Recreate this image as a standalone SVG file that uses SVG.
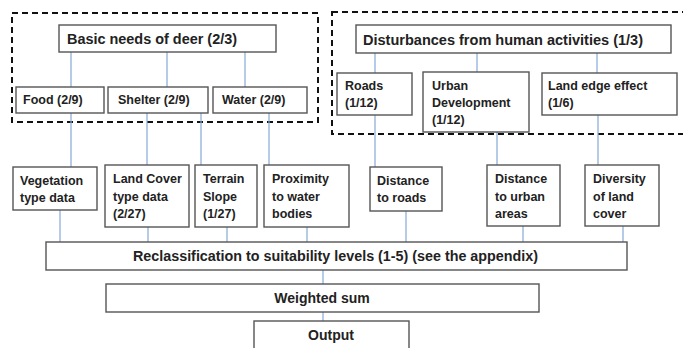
<svg xmlns="http://www.w3.org/2000/svg" width="683" height="348" viewBox="0 0 683 348">
<style>
.box{fill:#fff;stroke:#555;stroke-width:1.4}
.grp{fill:none;stroke:#111;stroke-width:2;stroke-dasharray:6 4}
.ln{stroke:#86a9d6;stroke-width:1.2;fill:none}
text{font-family:"Liberation Sans",Arial,sans-serif;font-weight:bold;fill:#222}
.h{font-size:14px}
.s{font-size:12.5px}
.m{text-anchor:middle}
</style>
<rect width="683" height="348" fill="#fff"/>
<g id="groups">
<rect class="grp" x="12" y="13" width="306" height="109"/>
<rect class="grp" x="332" y="12" width="360" height="122"/>
</g>
<g id="connectors">
<path class="ln" d="M71 52V87M167 52V87M245 52V87M71 113V167M147 113V165M201 113V165M269 113V165M375 53V73M477 53V72M597 53V73M375 115V167M497 132V165M598 115V165M60 210V242M148 227V242M227 227V242M307 227V242M406 211V242M523 226V242M623 226V242M323 270V284M323 312V321"/>
</g>
<g id="basic"><rect class="box" x="59" y="25" width="217" height="27"/><text class="h" x="67" y="44" textLength="170" lengthAdjust="spacingAndGlyphs">Basic needs of deer (2/3)</text></g>
<g id="disturb"><rect class="box" x="356" y="25" width="315" height="28"/><text class="h" x="363" y="45" textLength="280" lengthAdjust="spacingAndGlyphs">Disturbances from human activities (1/3)</text></g>
<g id="food"><rect class="box" x="16" y="87" width="88" height="26"/><text class="s" x="23" y="104">Food (2/9)</text></g>
<g id="shelter"><rect class="box" x="108" y="87" width="100" height="26"/><text class="s" x="118" y="104">Shelter (2/9)</text></g>
<g id="water"><rect class="box" x="213" y="87" width="94" height="26"/><text class="s" x="222" y="104">Water (2/9)</text></g>
<g id="roads"><rect class="box" x="337" y="73" width="75" height="42"/><text class="s" x="345" y="90">Roads</text><text class="s" x="345" y="107">(1/12)</text></g>
<g id="urban"><rect class="box" x="423" y="72" width="106" height="60"/><text class="s" x="432" y="90">Urban</text><text class="s" x="432" y="107">Development</text><text class="s" x="432" y="124">(1/12)</text></g>
<g id="landedge"><rect class="box" x="542" y="73" width="135" height="42"/><text class="s" x="548" y="90">Land edge effect</text><text class="s" x="548" y="107">(1/6)</text></g>
<g id="veg"><rect class="box" x="13" y="167" width="84" height="43"/><text class="s" x="20" y="185">Vegetation</text><text class="s" x="20" y="202">type data</text></g>
<g id="landcover"><rect class="box" x="105" y="165" width="84" height="62"/><text class="s" x="113" y="183">Land Cover</text><text class="s" x="113" y="201">type data</text><text class="s" x="113" y="218">(2/27)</text></g>
<g id="terrain"><rect class="box" x="195" y="165" width="62" height="62"/><text class="s" x="203" y="183">Terrain</text><text class="s" x="203" y="201">Slope</text><text class="s" x="203" y="218">(1/27)</text></g>
<g id="proximity"><rect class="box" x="264" y="165" width="85" height="62"/><text class="s" x="272" y="183">Proximity</text><text class="s" x="272" y="201">to water</text><text class="s" x="272" y="218">bodies</text></g>
<g id="distroads"><rect class="box" x="370" y="167" width="72" height="44"/><text class="s" x="377" y="185">Distance</text><text class="s" x="377" y="202">to roads</text></g>
<g id="disturban"><rect class="box" x="487" y="165" width="73" height="61"/><text class="s" x="495" y="183">Distance</text><text class="s" x="495" y="201">to urban</text><text class="s" x="495" y="218">areas</text></g>
<g id="diversity"><rect class="box" x="585" y="165" width="74" height="61"/><text class="s" x="593" y="183">Diversity</text><text class="s" x="593" y="201">of land</text><text class="s" x="593" y="218">cover</text></g>
<g id="reclass"><rect class="box" x="46" y="242" width="581" height="28"/><text class="h" x="133" y="261" textLength="405" lengthAdjust="spacingAndGlyphs">Reclassification to suitability levels (1-5) (see the appendix)</text></g>
<g id="weighted"><rect class="box" x="106" y="284" width="433" height="28"/><text class="h m" x="322" y="303">Weighted sum</text></g>
<g id="output"><rect class="box" x="254" y="321" width="155" height="32"/><text class="h m" x="331" y="340" font-size="14.5">Output</text></g>
</svg>
